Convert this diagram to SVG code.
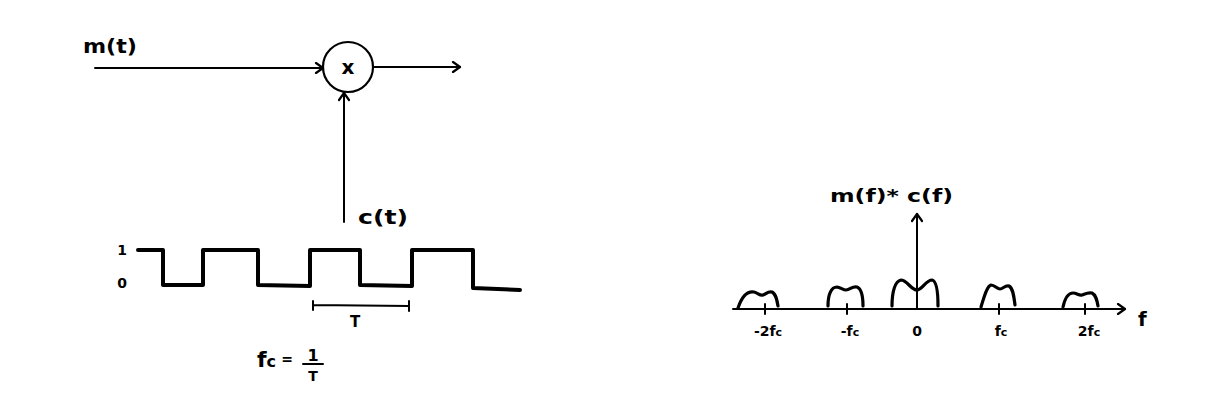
<svg xmlns="http://www.w3.org/2000/svg" width="1210" height="420" viewBox="0 0 1210 420">
<style>
.ln{fill:none;stroke:#000;stroke-width:2;stroke-linecap:round;stroke-linejoin:round}
.thick{fill:none;stroke:#000;stroke-width:4;stroke-linecap:round;stroke-linejoin:round}
.hump{fill:none;stroke:#000;stroke-width:3.2;stroke-linecap:round;stroke-linejoin:round}
.t{font-family:"DejaVu Sans","Liberation Sans",sans-serif;font-weight:bold;fill:#000}
</style>
<defs>
<marker id="arr" viewBox="0 0 12 12" refX="10" refY="6" markerWidth="12" markerHeight="12" markerUnits="userSpaceOnUse" orient="auto">
<path d="M3,1 L10,6 L3,11" fill="none" stroke="#000" stroke-width="2.2" stroke-linecap="round" stroke-linejoin="round"/>
</marker>
</defs>
<rect width="1210" height="420" fill="#fff"/>
<g id="connectors">
<line class="ln" x1="95" y1="68" x2="323" y2="68" marker-end="url(#arr)"/>
<line class="ln" x1="373" y1="67" x2="460" y2="67" marker-end="url(#arr)"/>
<line class="ln" x1="344" y1="222" x2="344" y2="93" marker-end="url(#arr)"/>
</g>
<g id="input-label"><text class="t" x="83" y="53" font-size="20" textLength="54" lengthAdjust="spacingAndGlyphs">m(t)</text></g>
<g id="multiplier">
<circle cx="348" cy="67" r="25" fill="none" stroke="#000" stroke-width="2.2"/>
<text class="t" x="348" y="74" font-size="20" text-anchor="middle">x</text>
</g>
<g id="carrier-label"><text class="t" x="358" y="224" font-size="20" textLength="50" lengthAdjust="spacingAndGlyphs">c(t)</text></g>
<g id="square-wave">
<text class="t" x="122" y="255" font-size="14" text-anchor="middle">1</text>
<text class="t" x="122" y="288" font-size="14" text-anchor="middle">0</text>
<path class="thick" d="M138,250 L163,250 L163,285 L203,285 L203,250 L258,250 L258,285 L310,286 L310,250 L360,250 L360,285 L412,286 L412,250 L473,250 L473,288 L520,290"/>
<path class="ln" d="M313,301 L313,310 M313,305 L409,306 M409,301 L409,311"/>
<text class="t" x="355" y="327" font-size="15" text-anchor="middle">T</text>
</g>
<g id="fc-formula">
<text class="t" x="257" y="367" font-size="22">f<tspan font-size="16">c</tspan></text>
<text class="t" x="287" y="364" font-size="14" text-anchor="middle">=</text>
<text class="t" x="313" y="361" font-size="16" text-anchor="middle">1</text>
<line class="ln" x1="303" y1="364" x2="323" y2="364"/>
<text class="t" x="313" y="381" font-size="14" text-anchor="middle">T</text>
</g>
<g id="spectrum">
<line class="ln" x1="733" y1="309" x2="1125" y2="309" marker-end="url(#arr)"/>
<line class="ln" x1="917" y1="309" x2="917" y2="214" marker-end="url(#arr)"/>
<text class="t" x="830" y="202" font-size="18" textLength="123" lengthAdjust="spacingAndGlyphs">m(f)* c(f)</text>
<text class="t" x="1138" y="326" font-size="20">f</text>
<path class="ln" d="M765,304 V314 M847,304 V314 M999,304 V314 M1085,304 V314"/>
<path class="hump" d="M738,308 C742,296 748,291 754,292 C758,293 760,296 763,295 C766,294 768,291 772,292 C776,294 777,300 778,306"/>
<path class="hump" d="M828,306 C828,295 831,287 837,287 C842,288 843,290 846,290 C850,290 852,286 857,287 C862,289 863,297 863,306"/>
<path class="hump" d="M892,306 C892,292 895,281 901,280 C907,280 911,290 917,290 C922,290 926,280 932,280 C937,281 938,294 938,306"/>
<path class="hump" d="M981,307 C984,297 987,286 991,285 C995,285 997,289 1000,289 C1003,289 1005,285 1009,286 C1013,288 1014,297 1015,305"/>
<path class="hump" d="M1063,307 C1065,298 1068,293 1073,293 C1077,293 1079,296 1082,295 C1085,294 1088,292 1092,293 C1096,295 1097,300 1098,306"/>
<text class="t" x="768" y="336" font-size="14" text-anchor="middle">-2f<tspan font-size="11">c</tspan></text>
<text class="t" x="850" y="336" font-size="14" text-anchor="middle">-f<tspan font-size="11">c</tspan></text>
<text class="t" x="917" y="336" font-size="14" text-anchor="middle">0</text>
<text class="t" x="1001" y="336" font-size="14" text-anchor="middle">f<tspan font-size="11">c</tspan></text>
<text class="t" x="1089" y="336" font-size="14" text-anchor="middle">2f<tspan font-size="11">c</tspan></text>
</g>
</svg>
